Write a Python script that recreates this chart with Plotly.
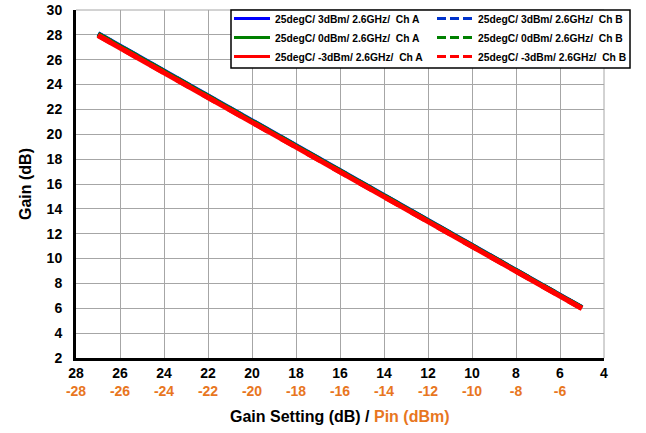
import plotly.graph_objects as go

gain_setting = [27, 26, 25, 24, 23, 22, 21, 20, 19, 18, 17, 16, 15, 14, 13, 12, 11, 10, 9, 8, 7, 6, 5]
gain_3dbm_a = [28.10, 27.10, 26.10, 25.10, 24.10, 23.10, 22.10, 21.10, 20.10, 19.10, 18.10, 17.10, 16.10, 15.10, 14.10, 13.10, 12.10, 11.10, 10.10, 9.10, 8.10, 7.10, 6.05]
gain_3dbm_b = [28.08, 27.08, 26.08, 25.08, 24.08, 23.08, 22.08, 21.08, 20.08, 19.08, 18.08, 17.08, 16.08, 15.08, 14.08, 13.08, 12.08, 11.08, 10.08, 9.08, 8.08, 7.08, 6.04]
gain_0dbm_a = [28.05, 27.05, 26.05, 25.05, 24.05, 23.05, 22.05, 21.05, 20.05, 19.05, 18.05, 17.05, 16.05, 15.05, 14.05, 13.05, 12.05, 11.05, 10.05, 9.05, 8.05, 7.05, 6.03]
gain_0dbm_b = [28.04, 27.04, 26.04, 25.04, 24.04, 23.04, 22.04, 21.04, 20.04, 19.04, 18.04, 17.04, 16.04, 15.04, 14.04, 13.04, 12.04, 11.04, 10.04, 9.04, 8.04, 7.04, 6.02]
gain_m3dbm_a = [27.95, 26.95, 25.95, 24.95, 23.95, 22.95, 21.95, 20.95, 19.95, 18.95, 17.95, 16.95, 15.95, 14.95, 13.95, 12.95, 11.95, 10.95, 9.95, 8.95, 7.95, 6.95, 5.98]
gain_m3dbm_b = [27.96, 26.96, 25.96, 24.96, 23.96, 22.96, 21.96, 20.96, 19.96, 18.96, 17.96, 16.96, 15.96, 14.96, 13.96, 12.96, 11.96, 10.96, 9.96, 8.96, 7.96, 6.96, 5.98]

x_ticks = [28, 26, 24, 22, 20, 18, 16, 14, 12, 10, 8, 6, 4]
pin_labels = ["-28", "-26", "-24", "-22", "-20", "-18", "-16", "-14", "-12", "-10", "-8", "-6", ""]
y_ticks = [2, 4, 6, 8, 10, 12, 14, 16, 18, 20, 22, 24, 26, 28, 30]

series = [
    ("25degC/ 3dBm/ 2.6GHz/  Ch A", gain_3dbm_a, "#0000FF", "solid"),
    ("25degC/ 3dBm/ 2.6GHz/  Ch B", gain_3dbm_b, "#0033CC", "dash"),
    ("25degC/ 0dBm/ 2.6GHz/  Ch A", gain_0dbm_a, "#008000", "solid"),
    ("25degC/ 0dBm/ 2.6GHz/  Ch B", gain_0dbm_b, "#008000", "dash"),
    ("25degC/ -3dBm/ 2.6GHz/  Ch A", gain_m3dbm_a, "#FF0000", "solid"),
    ("25degC/ -3dBm/ 2.6GHz/  Ch B", gain_m3dbm_b, "#FF0000", "dash"),
]

fig = go.Figure()
for name, ys, color, dash in series:
    fig.add_trace(go.Scatter(x=gain_setting, y=ys, mode="lines", name=name, showlegend=False,
                             line=dict(color=color, width=5, dash=dash)))
# legend-only entries with thinner sample lines
for name, ys, color, dash in series:
    fig.add_trace(go.Scatter(x=[None], y=[None], mode="lines", name=name, showlegend=True,
                             line=dict(color=color, width=3, dash="solid" if dash == "solid" else "9px,4px")))

orange = "#E8761E"
ticktext = [f"{t}<br><span style='color:{orange}'>{p}</span>" for t, p in zip(x_ticks, pin_labels)]
grid = "#A6A6A6"
font_fam = "Liberation Sans, Arial, sans-serif"

W, H = 646, 433
L, R, T, B = 76, 42, 10, 75
PW, PH = W - L - R, H - T - B
fig.update_layout(
    width=W, height=H,
    margin=dict(l=L, r=R, t=T, b=B, autoexpand=False),
    plot_bgcolor="white", paper_bgcolor="white",
    font=dict(family=font_fam, size=12, color="black"),
    showlegend=True,
    legend=dict(
        orientation="h", xref="container", yref="container",
        x=635 / W, y=1 - 4 / H, xanchor="right", yanchor="top",
        entrywidth=152, entrywidthmode="pixels",
        bgcolor="rgba(0,0,0,0)", borderwidth=0,
        font=dict(size=10.3, family=font_fam, weight="bold"),
        itemwidth=36, tracegroupgap=0,
    ),
    xaxis=dict(
        range=[28, 4], tickmode="array", tickvals=x_ticks, ticktext=ticktext,
        showgrid=True, gridcolor=grid, gridwidth=1,
        showline=True, linecolor="black", linewidth=3,
        ticks="", tickfont=dict(size=14, weight="bold"),
        automargin=False, zeroline=False,
    ),
    xaxis2=dict(
        range=[28, 4], overlaying="x", side="bottom", anchor="y", tickmode="linear", tick0=0, dtick=1,
        ticks="outside", ticklen=4, tickwidth=2, tickcolor="black", showticklabels=False,
        showgrid=False, showline=False, zeroline=False,
    ),
    xaxis3=dict(
        range=[28, 4], overlaying="x", side="bottom", anchor="y", tickmode="linear", tick0=0, dtick=1,
        ticks="inside", ticklen=4, tickwidth=2, tickcolor="black", showticklabels=False,
        showgrid=False, showline=False, zeroline=False,
    ),
    yaxis=dict(
        range=[2, 30], tickmode="array", tickvals=y_ticks,
        showgrid=True, gridcolor=grid, gridwidth=1,
        showline=True, linecolor="black", linewidth=3,
        ticks="", tickfont=dict(size=14, weight="bold"), ticklabelstandoff=8,
        automargin=False, zeroline=False,
    ),
    yaxis2=dict(
        range=[2, 30], overlaying="y", side="left", anchor="x", tickmode="linear", tick0=0, dtick=1,
        ticks="outside", ticklen=4, tickwidth=2, tickcolor="black", showticklabels=False,
        showgrid=False, showline=False, zeroline=False,
    ),
    yaxis3=dict(
        range=[2, 30], overlaying="y", side="left", anchor="x", tickmode="linear", tick0=0, dtick=1,
        ticks="inside", ticklen=4, tickwidth=2, tickcolor="black", showticklabels=False,
        showgrid=False, showline=False, zeroline=False,
    ),
    shapes=[
        dict(type="line", xref="paper", yref="paper", x0=1, x1=1, y0=0, y1=1, line=dict(color=grid, width=1)),
        dict(type="line", xref="paper", yref="paper", x0=0, x1=1, y0=1, y1=1, line=dict(color=grid, width=1)),
        # legend frame
        dict(type="rect", xref="paper", yref="paper", layer="above",
             x0=(231 - L) / PW, x1=(630 - L) / PW, y0=1 - (68 - T) / PH, y1=1,
             fillcolor="white", line=dict(color="black", width=1.5)),
    ],
    annotations=[
        dict(text=f"<b>Gain Setting (dB) / <span style='color:{orange}'>Pin (dBm)</span></b>",
             xref="paper", yref="paper", x=0.5, y=(358 - 416) / PH, xanchor="center", yanchor="middle",
             showarrow=False, font=dict(size=16, family=font_fam)),
        dict(text="<b>Gain (dB)</b>", xref="paper", yref="paper", x=(25 - L) / PW, y=0.5,
             xanchor="center", yanchor="middle", textangle=-90, showarrow=False,
             font=dict(size=16, family=font_fam)),
    ],
)

fig.write_html("out.html", config={"displayModeBar": False},
               post_script="document.body.style.margin='0px';")
